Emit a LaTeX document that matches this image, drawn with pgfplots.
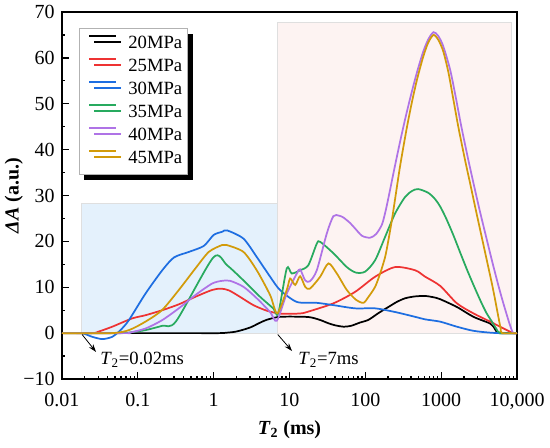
\documentclass[border=0pt]{standalone}
\usepackage{fontspec}
\setmainfont{Liberation Serif}
\usepackage{pgfplots}
\pgfplotsset{compat=1.18}
\usetikzlibrary{shadows,arrows.meta}
\definecolor{c20}{RGB}{0,0,0}
\definecolor{c25}{RGB}{238,51,51}
\definecolor{c30}{RGB}{30,110,225}
\definecolor{c35}{RGB}{40,170,95}
\definecolor{c40}{RGB}{175,115,230}
\definecolor{c45}{RGB}{210,155,10}
\definecolor{bluebg}{RGB}{228,241,252}
\definecolor{pinkbg}{RGB}{253,243,242}
\begin{document}
\begin{tikzpicture}
\begin{axis}[
  at={(0,0)}, anchor=south west,
  scale only axis, width=341.25pt, height=275.25pt,
  xmode=log, xmin=0.01, xmax=10000, ymin=-10, ymax=70,
  xtick={0.01,0.1,1,10,100,1000,10000},
  xticklabels={0.01,0.1,1,10,100,1000,{10,000}},
  minor xtick={0.02,0.03,0.04,0.05,0.06,0.07,0.08,0.09,0.2,0.3,0.4,0.5,0.6,0.7,0.8,0.9,2,3,4,5,6,7,8,9,20,30,40,50,60,70,80,90,200,300,400,500,600,700,800,900,2000,3000,4000,5000,6000,7000,8000,9000},
  ytick={-10,0,10,20,30,40,50,60,70},
  yticklabels={−10,0,10,20,30,40,50,60,70},
  minor y tick num=1,
  tick align=inside, xtick pos=bottom, ytick pos=left,
  major tick length=5pt, minor tick length=2.5pt,
  every tick/.style={black, line width=1pt},
  axis line style={line width=1.5pt},
  ticklabel style={font=\fontsize{15}{18}\selectfont},
  xticklabel style={yshift=-7pt},
  yticklabel style={xshift=-2pt},
  xlabel={\textbf{\textit{T}\textsubscript{2} (ms)}},
  ylabel={\textbf{\textit{ΔA} (a.u.)}},
  every axis x label/.style={at={(axis description cs:0.5,-0.139)}, anchor=center, font=\fontsize{15}{18}\selectfont},
  every axis y label/.style={at={(axis description cs:-0.106,0.5)}, anchor=center, rotate=90, font=\fontsize{15}{18}\selectfont},
  legend style={at={(0.0374,0.956)}, anchor=north west, draw=gray!60, fill=white,
     font=\fontsize{14}{16}\selectfont, row sep=2.25pt, inner xsep=3pt, inner ysep=4pt,
     nodes={inner sep=1pt, text height=10pt, text depth=3pt},
     drop shadow={shadow xshift=3.75pt, shadow yshift=-4.5pt, fill=black, opacity=1}},
  legend cell align=left,
  legend image code/.code={\draw[#1, line width=1.5pt] (4pt,6pt) -- (24pt,6pt); \path (0pt,6pt) (31.5pt,6pt);},
  every axis plot/.append style={line width=1.3pt, smooth, tension=0.45},
]
\addplot[fill=bluebg, draw=gray!25, line width=0.5pt, sharp plot, forget plot] coordinates {(0.018,0) (0.018,28.2) (7,28.2) (7,0)} -- cycle;
\addplot[fill=pinkbg, draw=gray!25, line width=0.5pt, sharp plot, forget plot] coordinates {(7,0) (7,67.8) (8500,67.8) (8500,0)} -- cycle;

% 20 MPa
\addplot[c20] coordinates {
(0.01,0) (0.5,0) (1.2,0) (1.5,0.1) (2,0.35) (3,1.2) (4,2.2) (5,2.9) (7,3.5) (10,3.6) (18,3.5) (25,2.9) (32,2.2) (40,1.7) (52,1.4) (65,1.6) (85,2.3) (110,2.9) (150,4.4) (201.7,5.7) (260,6.8) (335,7.6) (450,8.0) (615,8.1) (800,7.8) (970,7.4) (1611,5.7) (2668,3.55) (4430,2.1) (4898,1.4) (5430,0.2) (5700,0) (10000,0)};
\addlegendentry{20MPa}
% 25 MPa
\addplot[c25] coordinates {
(0.01,0) (0.025,0) (0.03,0.3) (0.046,1.4) (0.084,3.2) (0.126,3.9) (0.21,5.0) (0.35,6.3) (0.57,7.9) (0.95,9.4) (1.25,9.7) (1.6,9.3) (2.23,7.9) (3.34,6.1) (5,4.9) (7.1,4.3) (10,4.2) (14,4.3) (17,4.6) (38,6.5) (73.4,9.0) (134.7,12.3) (247,14.4) (454,13.7) (615,12.3) (970,10.3) (1611,6.5) (2668,4.3) (4430,2.5) (7360,0.65) (8993,0) (10000,0)};
\addlegendentry{25MPa}
% 30 MPa
\addplot[c30] coordinates {
(0.01,0) (0.018,0) (0.025,-0.8) (0.034,-1.3) (0.046,-0.8) (0.059,0.65) (0.076,2.8) (0.126,8.6) (0.21,13.7) (0.3,16.5) (0.47,17.7) (0.74,19.0) (1.0,21.4) (1.3,22.1) (1.5,22.4) (2.47,20.6) (3.7,16.6) (5.55,12.3) (7.5,9.4) (12.5,6.8) (23,6.6) (38,6.1) (73.4,5.4) (134.7,5.4) (247,4.6) (454,3.55) (615,3.0) (970,2.5) (1611,1.4) (2668,0.5) (4430,0.1) (6000,0) (10000,0)};
\addlegendentry{30MPa}
% 35 MPa
\addplot[c35] coordinates {
(0.01,0) (0.06,0) (0.09,0.3) (0.126,0.65) (0.21,1.6) (0.32,2.6) (0.99,16.5) (1.5,14.8) (2.47,11.5) (4.1,7.9) (6.1,5.4) (7.1,4.3) (9.2,14.1) (10.7,13.0) (13.8,13.7) (17.7,14.8) (22.9,19.5) (25.4,19.9) (38,17.4) (57,14.4) (75,13.2) (99.4,13.4) (134.7,15.9) (182.5,21.0) (247,26.1) (335,29.7) (414,31.0) (497.5,31.4) (674,30.6) (833,29.2) (970,27.6) (1164,25.0) (1453,21.3) (1778,17.6) (2183,13.9) (2668,10.5) (3270,7.2) (3924,4.5) (4666,2.5) (5317,1.0) (6000,0) (10000,0)};
\addlegendentry{35MPa}
% 40 MPa
\addplot[c40] coordinates {
(0.01,0) (0.07,0) (0.076,0.05) (0.126,1.0) (0.208,2.8) (0.347,5.4) (0.574,8.3) (0.953,10.8) (1.29,11.4) (1.65,11.4) (2.47,10.1) (3.7,7.6) (5.55,4.6) (6.8,2.7) (9.2,8.6) (12.5,13.0) (13.8,13.9) (16.1,11.5) (18.6,11.3) (22.9,13.7) (31,21.7) (37.9,25.5) (45,25.6) (51.4,25.2) (63,24.0) (73.4,22.8) (90.7,21.2) (115.7,20.8) (138.8,21.6) (165,23.6) (182.5,26.2) (201.7,29.5) (239.8,35.6) (287.8,41.8) (345.4,47.6) (414.4,52.9) (482.5,57.0) (578.7,61.3) (673.9,64.0) (791.4,65.6) (912.8,64.8) (1062,62.6) (1314,57.4) (1554,51.5) (1836,45.2) (2271,37.9) (2725,32.0) (3270,26.3) (4009,20.3) (4708,15.6) (5701,10.3) (6477,7.0) (7360,3.9) (8135,1.6) (8913,0) (10000,0)};
\addlegendentry{40MPa}
% 45 MPa
\addplot[c45] coordinates {
(0.01,0) (0.045,0) (0.076,0.65) (0.126,2.5) (0.208,5.0) (0.347,9.4) (0.574,14.1) (0.862,17.7) (1.29,19.2) (1.49,19.2) (2.47,17.7) (3.7,13.7) (5.55,8.3) (6.9,4.3) (9.2,9.4) (10.2,11.9) (11.9,10.5) (13.8,12.4) (16.1,10.1) (18.6,9.7) (25.4,12.3) (32.6,15.2) (42.1,13.0) (57,9.4) (75,7.3) (94.4,6.6) (110,7.9) (134.7,10.1) (156.8,13.0) (182.5,16.6) (201.7,20.3) (223.7,24.6) (247.2,29.3) (287.8,36.5) (352.8,44.8) (414.4,50.6) (482.5,55.4) (578.7,60.2) (673.9,63.3) (791.4,65.0) (912.8,64.0) (1062,61.5) (1248,56.8) (1453,50.8) (1691,44.8) (2073,37.6) (2413,32.6) (2808,27.5) (3443,20.8) (4009,15.8) (4666,10.8) (5158,7.2) (5701,3.4) (6095,1.0) (6378,0) (10000,0)};
\addlegendentry{45MPa}

\draw[-{Stealth[length=6pt,width=4pt]}, line width=0.6pt] (axis cs:0.0184,-0.3) -- (axis cs:0.0281,-4.1);
\node[anchor=west, font=\fontsize{14}{16}\selectfont, inner sep=0pt] at (axis cs:0.0317,-5.8) {\textit{T}\textsubscript{2}=0.02ms};
\draw[-{Stealth[length=6pt,width=4pt]}, line width=0.6pt] (axis cs:7,-0.3) -- (axis cs:10.8,-3.9);
\node[anchor=west, font=\fontsize{14}{16}\selectfont, inner sep=0pt] at (axis cs:13,-5.8) {\textit{T}\textsubscript{2}=7ms};
\end{axis}
\pgfresetboundingbox
\path[use as bounding box] (-46.5pt,-51pt) rectangle (366pt,284.25pt);
\end{tikzpicture}
\end{document}
